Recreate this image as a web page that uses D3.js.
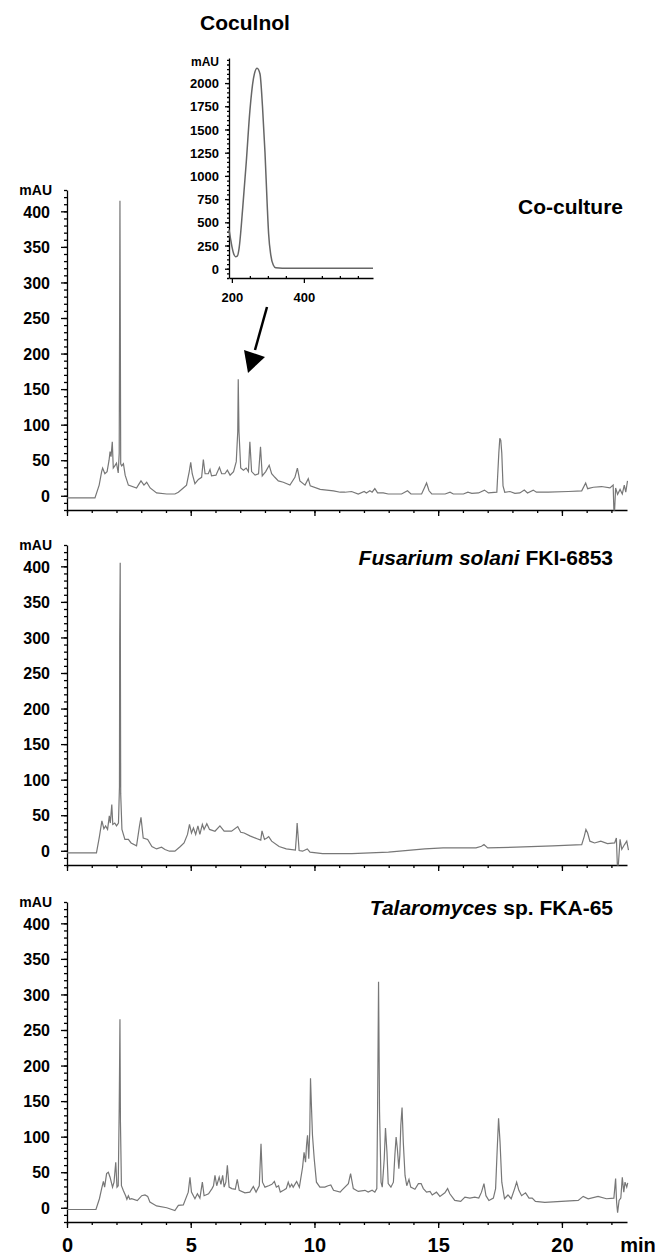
<!DOCTYPE html>
<html>
<head>
<meta charset="utf-8">
<script src="https://cdn.jsdelivr.net/npm/d3@7"></script>
<style>
body { margin: 0; background: #fff; }
text { font-family: "Liberation Sans", Arial, sans-serif; font-weight: bold; fill: #000; }
</style>
</head>
<body>
<script>
// chromatograms: [time (min), absorbance (mAU)]
var coculture = [[0,-3],[1.13,-3],[1.3,15],[1.4,34],[1.44,39],[1.53,31],[1.62,34],[1.7,50],[1.74,62],[1.78,55],[1.83,76],[1.87,39],[1.93,42],[2.0,46],[2.07,32],[2.11,60],[2.14,415],[2.17,45],[2.21,42],[2.28,45],[2.35,29],[2.48,15],[2.81,11],[2.9,16],[2.99,21],[3.11,15],[3.22,19],[3.36,11],[3.62,4],[4.03,2.5],[4.36,2.5],[4.5,5],[4.7,11],[4.83,15],[4.94,34],[5.0,47],[5.06,31],[5.17,17],[5.31,23],[5.44,26],[5.51,51],[5.58,31],[5.71,31],[5.78,37],[5.84,28],[6.02,29],[6.16,40],[6.25,31],[6.38,31],[6.48,36],[6.59,29],[6.73,34],[6.84,48],[6.9,90],[6.92,164],[6.95,90],[7.02,39],[7.13,36],[7.24,39],[7.33,34],[7.39,76],[7.46,34],[7.6,29],[7.74,31],[7.82,69],[7.89,28],[8.03,34],[8.17,43],[8.27,31],[8.4,26],[8.54,21],[8.74,19],[9.01,15],[9.21,26],[9.31,39],[9.41,21],[9.62,15],[9.75,24],[9.83,14],[10.23,9],[10.77,7],[11.04,5],[11.23,5],[11.5,6],[11.77,2.5],[12.01,6],[12.1,4],[12.24,7],[12.33,5],[12.44,10],[12.55,4],[12.78,4],[12.98,2.5],[13.52,2.5],[13.76,7],[13.9,2.5],[14.33,2.5],[14.44,11],[14.53,18],[14.63,7],[14.74,2.5],[15.28,2.5],[15.48,5],[15.61,2.5],[16.02,2.5],[16.2,5],[16.36,3.5],[16.63,4],[16.87,8],[17.03,4],[17.37,5],[17.45,60],[17.49,81],[17.53,78],[17.57,60],[17.62,14],[17.69,5],[17.9,6],[18.1,3.5],[18.3,4],[18.48,8],[18.61,4],[18.84,8],[18.97,5],[19.45,5],[20.26,6],[20.8,7],[20.96,18],[21.04,10],[21.27,12],[21.6,13],[21.94,11],[22.07,15],[22.1,-20],[22.13,-20],[22.17,11],[22.25,2],[22.35,9],[22.44,2.5],[22.52,15],[22.58,5],[22.65,21]];

var fusarium = [[0,-3],[1.19,-3],[1.31,20],[1.41,42],[1.49,31],[1.56,35],[1.64,30],[1.71,49],[1.75,39],[1.81,65],[1.85,37],[1.93,39],[2.0,35],[2.08,39],[2.12,90],[2.13,300],[2.15,405],[2.17,80],[2.22,30],[2.34,16],[2.48,16],[2.59,11],[2.81,7],[2.93,35],[2.99,47],[3.08,18],[3.26,16],[3.43,6],[3.62,2.6],[3.82,5],[3.96,1.7],[4.14,-0.6],[4.36,-0.6],[4.58,6],[4.73,11],[4.87,23],[4.95,37],[5.03,25],[5.11,32],[5.2,23],[5.29,35],[5.37,23],[5.47,37],[5.54,30],[5.65,38],[5.76,30],[5.98,27.5],[6.18,35],[6.35,27.5],[6.65,27.5],[6.9,34],[7.02,26],[7.16,25],[7.39,21],[7.68,17],[7.83,15],[7.88,28],[7.98,16],[8.08,18],[8.15,20],[8.27,13.5],[8.57,6],[8.86,2.6],[9.23,1],[9.27,20],[9.3,39],[9.34,20],[9.38,0.3],[9.52,-0.6],[9.71,2.6],[9.82,-2],[10.33,-4],[11.51,-4],[12.99,-2],[14.46,2.6],[15.2,4],[16.53,4],[16.75,6.4],[16.85,8.75],[17.0,4],[18.15,5],[19.63,7],[20.8,8.75],[20.9,20],[20.97,30],[21.04,25],[21.13,13.5],[21.32,11],[21.57,13.5],[21.84,10],[22.13,11],[22.2,18],[22.24,-20],[22.28,-20],[22.35,16],[22.42,2],[22.53,8.75],[22.62,13.5],[22.69,1]];

var talaromyces = [[0,-2.4],[1.17,-2.4],[1.31,12.7],[1.4,27],[1.47,37],[1.52,29],[1.6,48],[1.67,50],[1.74,43],[1.84,29],[1.9,36],[1.97,64],[2.02,29],[2.07,31],[2.11,140],[2.12,180],[2.14,265],[2.16,120],[2.2,31],[2.28,24],[2.37,17],[2.42,12],[2.48,17],[2.54,12],[2.61,12.7],[2.84,10],[3.02,17],[3.15,18],[3.26,16],[3.35,8],[3.62,2.6],[4.03,0],[4.36,-3.8],[4.5,3.3],[4.7,4],[4.9,22],[4.97,43],[5.03,22],[5.17,12.7],[5.27,19.7],[5.37,13.6],[5.47,36],[5.54,17],[5.72,19.7],[5.86,27],[5.92,31],[5.98,45.5],[6.05,31],[6.15,43],[6.22,33],[6.29,45.5],[6.35,29],[6.42,36],[6.48,59.6],[6.55,29],[6.66,27],[6.8,26],[6.88,40],[6.96,24.6],[7.19,21],[7.39,22],[7.53,30],[7.64,22],[7.77,31],[7.84,90],[7.9,36],[8.0,29],[8.15,31],[8.28,33],[8.38,37],[8.46,29],[8.55,31],[8.62,22],[8.75,24.6],[8.86,27],[8.94,36],[9.01,29],[9.08,33],[9.14,29],[9.28,37],[9.39,29],[9.52,57],[9.58,78],[9.64,64],[9.68,88],[9.72,102],[9.77,69],[9.81,107],[9.84,182],[9.88,141],[9.92,102],[9.99,69],[10.08,36],[10.22,29],[10.42,29],[10.55,31],[10.66,32],[10.77,24.6],[11.04,22],[11.1,24.6],[11.37,34],[11.46,48],[11.57,27],[11.77,23],[12.04,24.6],[12.17,22],[12.33,24.6],[12.44,22],[12.52,27],[12.55,135],[12.59,318],[12.63,135],[12.69,36],[12.74,29],[12.82,69],[12.87,112],[12.93,78],[12.98,34],[13.09,29],[13.19,36],[13.25,74],[13.3,99.5],[13.35,83],[13.41,55],[13.45,74],[13.49,116],[13.54,141],[13.59,92],[13.66,45.5],[13.73,31],[13.82,40],[13.89,29],[14.06,26],[14.2,34],[14.31,34],[14.4,27],[14.53,22],[14.67,23],[14.76,18],[14.93,22],[15.07,16],[15.27,21],[15.38,27],[15.47,19.7],[15.67,10.3],[15.91,9],[16.08,15],[16.28,13.6],[16.48,15],[16.64,13.6],[16.75,22],[16.85,34],[16.93,17],[17.05,10.3],[17.23,13.6],[17.32,27],[17.38,78],[17.44,126],[17.5,92],[17.57,36],[17.68,12.7],[17.82,18],[17.95,12.7],[18.09,27],[18.17,36],[18.26,24.6],[18.37,17],[18.53,21],[18.67,13.6],[18.8,13.6],[18.93,9],[19.31,7.5],[19.98,9],[20.66,10.3],[20.86,16],[21.06,12.7],[21.46,16],[21.8,12.7],[22.1,13.6],[22.17,41],[22.21,8],[22.25,-7],[22.31,10.3],[22.38,13.6],[22.44,43],[22.5,22],[22.55,36],[22.62,29],[22.66,35]];

// UV spectrum of coculnol: [wavelength (nm), mAU]
var spectrum = [[192,420],[196,330],[200,240],[205,160],[210,130],[215,135],[220,220],[230,650],[240,1150],[250,1700],[260,2050],[270,2160],[278,2100],[285,1750],[292,1250],[298,700],[302,380],[308,150],[315,40],[322,10],[340,5],[592,5]];

var yTicks = [0, 50, 100, 150, 200, 250, 300, 350, 400];
var xTicks = [0, 5, 10, 15, 20];
var insetYTicks = [0, 250, 500, 750, 1000, 1250, 1500, 1750, 2000];
var insetXTicks = [200, 400];

var panels = [
  {data: coculture, bottom: 510, label: [["Co-culture", "normal"]], lx: 623, ly: 296},
  {data: fusarium, bottom: 865, label: [["Fusarium solani", "italic"], [" FKI-6853", "normal"]], lx: 613, ly: 300},
  {data: talaromyces, bottom: 1222, label: [["Talaromyces", "italic"], [" sp. FKA-65", "normal"]], lx: 613, ly: 307}
];

var w = 657, h = 1255;
var svg = d3.select("body").append("svg")
            .attr("width", w)
            .attr("height", h);

var x = d3.scaleLinear().domain([0, 22.63]).range([67, 627]);

panels.forEach(function(p, i) {
  var y = d3.scaleLinear().domain([-20, 430]).range([p.bottom, p.bottom - 320]);

  // minor ticks
  svg.append("g").attr("transform", "translate(67,0)")
     .call(d3.axisLeft(y).tickValues(d3.range(-20, 431, 10)).tickSize(3).tickFormat(""))
     .call(function(g) { g.select(".domain").remove(); });
  svg.append("g").attr("transform", "translate(0," + p.bottom + ")")
     .call(d3.axisBottom(x).tickValues(d3.range(0, 23)).tickSize(3).tickFormat(""))
     .call(function(g) { g.select(".domain").remove(); });

  var ya = svg.append("g").attr("transform", "translate(67,0)")
     .call(d3.axisLeft(y).tickValues(yTicks).tickSize(6).tickSizeOuter(0).tickPadding(11));
  ya.selectAll("text").style("font-size", "16px").attr("dy", "0.36em");

  var xa = svg.append("g").attr("transform", "translate(0," + p.bottom + ")")
     .call(d3.axisBottom(x).tickValues(xTicks).tickSize(6).tickSizeOuter(0).tickPadding(10));
  if (i < 2) xa.selectAll("text").remove();
  else xa.selectAll("text").style("font-size", "20px");

  svg.selectAll(".domain, .tick line").attr("stroke", "#000").attr("stroke-width", 1.3);

  svg.append("text").attr("x", 52).attr("y", p.bottom - 315)
     .attr("text-anchor", "end").style("font-size", "14px").text("mAU");

  var t = svg.append("text").attr("x", p.lx).attr("y", p.bottom - p.ly)
     .attr("text-anchor", "end").style("font-size", "21px");
  p.label.forEach(function(s) {
    t.append("tspan").style("font-style", s[1]).text(s[0]);
  });

  var line = d3.line()
      .x(function(d) { return x(d[0]); })
      .y(function(d) { return y(d[1]); });
  svg.append("path").datum(p.data)
     .attr("d", line)
     .attr("fill", "none")
     .attr("stroke", "#777")
     .attr("stroke-width", 1.2);
});

svg.append("text").attr("x", 638).attr("y", 1222 + 16)
   .attr("dy", "0.71em").attr("text-anchor", "middle")
   .style("font-size", "20px").text("min");

// inset spectrum
var ix = d3.scaleLinear().domain([192, 592]).range([229, 373]);
var iy = d3.scaleLinear().domain([-100, 2270]).range([278, 58]);

svg.append("g").attr("transform", "translate(229,0)")
   .call(d3.axisLeft(iy).tickValues(d3.range(-100, 2251, 50)).tickSize(2).tickFormat(""))
   .call(function(g) { g.select(".domain").remove(); });
svg.append("g").attr("transform", "translate(0,278)")
   .call(d3.axisTop(ix).tickValues([250, 300, 350, 450, 500, 550]).tickSize(2).tickFormat(""))
   .call(function(g) { g.select(".domain").remove(); });

var iya = svg.append("g").attr("transform", "translate(229,0)")
   .call(d3.axisLeft(iy).tickValues(insetYTicks).tickSize(4).tickSizeOuter(0).tickPadding(6).tickFormat(d3.format("d")));
iya.selectAll("text").style("font-size", "13px").attr("dy", "0.36em");
var ixa = svg.append("g").attr("transform", "translate(0,278)")
   .call(d3.axisBottom(ix).tickValues(insetXTicks).tickSize(5).tickSizeOuter(0).tickPadding(10));
ixa.selectAll("text").style("font-size", "13px");
svg.selectAll(".domain, .tick line").attr("stroke", "#000").attr("stroke-width", 1.3);

svg.append("text").attr("x", 219).attr("y", 66)
   .attr("text-anchor", "end").style("font-size", "12px").text("mAU");
svg.append("text").attr("x", 245).attr("y", 30)
   .attr("text-anchor", "middle").style("font-size", "21px").text("Coculnol");

svg.append("path").datum(spectrum)
   .attr("d", d3.line().curve(d3.curveMonotoneX)
      .x(function(d) { return ix(d[0]); }).y(function(d) { return iy(d[1]); }))
   .attr("fill", "none").attr("stroke", "#666").attr("stroke-width", 1.5);

// arrow pointing at the coculnol peak
svg.append("line").attr("x1", 267).attr("y1", 307).attr("x2", 255).attr("y2", 350)
   .attr("stroke", "#000").attr("stroke-width", 2.5);
svg.append("path").attr("d", "M244,350L265,357L248,373Z").attr("fill", "#000");
</script>
</body>
</html>
